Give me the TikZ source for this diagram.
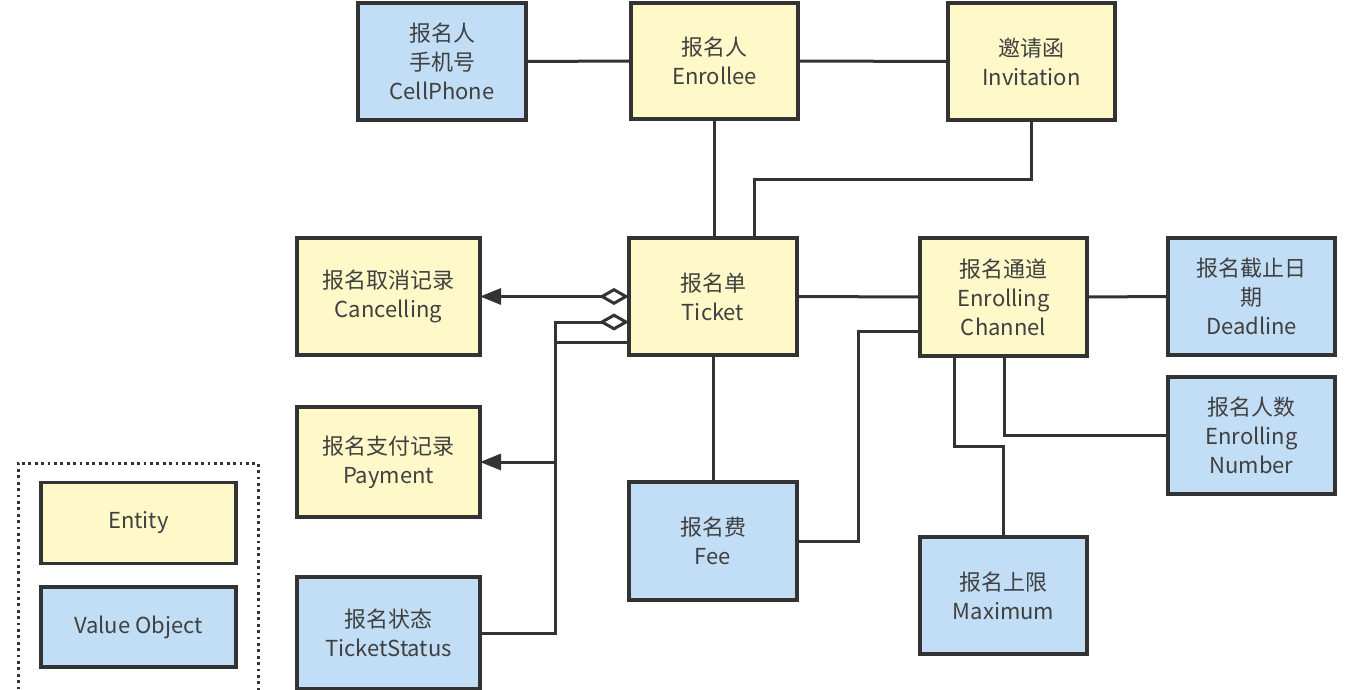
\documentclass[tikz,border=0pt]{standalone}
\usepackage{fontspec}
\setmainfont{Noto Sans CJK SC}
\usetikzlibrary{arrows.meta,calc}
\definecolor{entfill}{RGB}{255,248,200}
\definecolor{vofill}{RGB}{194,222,246}
\definecolor{edge}{RGB}{51,51,51}
\definecolor{txt}{RGB}{64,64,64}
\tikzset{
  box/.style={draw=edge, line width=3.5pt, align=center, inner sep=0pt, outer sep=0pt,
    text=txt, font=\fontsize{22}{29}\selectfont},
  ent/.style={box, fill=entfill},
  vo/.style={box, fill=vofill},
  conn/.style={draw=edge, line width=3pt},
  aggarrow/.style={{Diamond[open, length=30pt, width=17pt, line width=3pt]}-{Triangle[length=21pt, width=16pt]}},
}
\begin{document}
\begin{tikzpicture}[x=1pt,y=-1pt]
\useasboundingbox (0,0) rectangle (1353,690);
% nodes
\node[vo, minimum width=168pt, minimum height=117pt] (cell) at (442,61.5) {报名人\\手机号\\CellPhone};
\node[ent, minimum width=167pt, minimum height=116pt] (enrollee) at (714.5,61) {报名人\\Enrollee};
\node[ent, minimum width=167pt, minimum height=117pt] (invit) at (1031.5,61.5) {邀请函\\Invitation};
\node[ent, minimum width=183pt, minimum height=117pt] (cancel) at (388.5,296.5) {报名取消记录\\Cancelling};
\node[ent, minimum width=168pt, minimum height=117pt] (ticket) at (713,296.5) {报名单\\Ticket};
\node[ent, minimum width=167pt, minimum height=118pt] (channel) at (1003.5,297) {报名通道\\Enrolling\\Channel};
\node[vo, minimum width=167pt, minimum height=117pt] (deadline) at (1251.5,296.5) {报名截止日\\期\\Deadline};
\node[ent, minimum width=183pt, minimum height=110pt] (payment) at (388.5,462) {报名支付记录\\Payment};
\node[vo, minimum width=168pt, minimum height=118pt] (fee) at (713,541) {报名费\\Fee};
\node[vo, minimum width=167pt, minimum height=117pt] (maximum) at (1003.5,595.5) {报名上限\\Maximum};
\node[vo, minimum width=167pt, minimum height=117pt] (enrollnum) at (1251.5,435.5) {报名人数\\Enrolling\\Number};
\node[vo, minimum width=183pt, minimum height=112pt] (status) at (388.5,633) {报名状态\\TicketStatus};
% legend
\node[draw=edge, line width=3pt, dash pattern=on 2.8pt off 3.6pt, minimum width=240pt, minimum height=250pt, inner sep=0pt] (legend) at (138,588) {};
\node[ent, minimum width=195pt, minimum height=81pt] (lent) at (138.5,523) {Entity};
\node[vo, minimum width=195pt, minimum height=80pt] (lvo) at (138.5,627) {Value Object};
% connectors
\draw[conn] (cell.east) -- (enrollee.west);
\draw[conn] (enrollee.east) -- (invit.west);
\draw[conn] (enrollee.south) -- (enrollee.south |- ticket.north);
\draw[conn] (invit.south) -- (invit.south |- 0,180) -| ($(ticket.north)+(41,0)$);
\draw[conn] (ticket.east) -- (channel.west);
\draw[conn] (channel.east) -- (deadline.west);
\draw[conn, aggarrow] (ticket.west) -- (cancel.east);
\draw[conn, aggarrow] ($(ticket.west)+(0,25.5)$) -| ($(payment.east)+(75,0)$) -- (payment.east);
\draw[conn] ($(ticket.west)+(0,46)$) -| ($(status.east)+(75,0)$) -- (status.east);
\draw[conn] (ticket.south) -- (fee.north);
\draw[conn] (fee.east) -| ($(channel.west)+(-62,34)$) -- ($(channel.west)+(0,34)$);
\draw[conn] ($(channel.south)+(-49.5,0)$) -- ++(0,90) -| (maximum.north);
\draw[conn] ($(channel.south)+(0.5,0)$) |- (enrollnum.west);
\end{tikzpicture}
\end{document}
